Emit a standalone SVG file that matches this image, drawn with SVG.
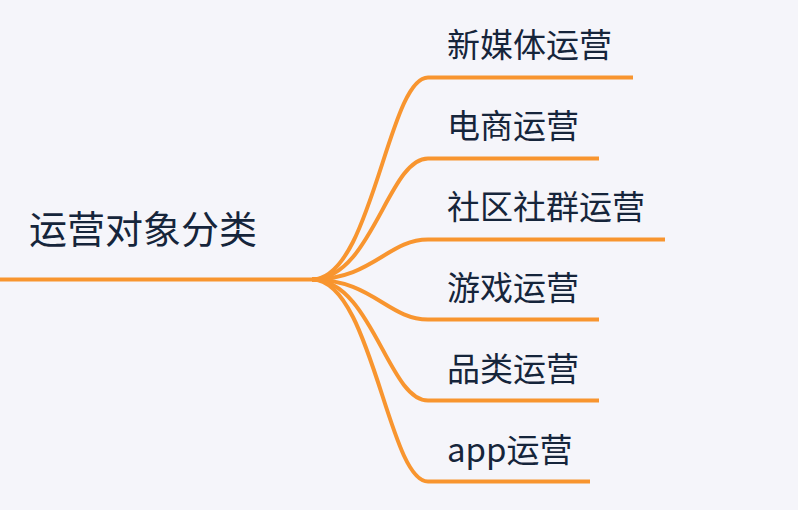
<svg xmlns="http://www.w3.org/2000/svg" width="798" height="510" viewBox="0 0 798 510">
<style>
.bg{fill:#f5f5fa}
.ln{fill:none;stroke:#f8952f;stroke-width:4;stroke-linecap:butt}
.t{font-family:"Noto Sans CJK SC","Noto Sans",sans-serif;fill:#16253b}
.sub{font-size:33px}
.root{font-size:38px}
</style>
<rect class="bg" x="0" y="0" width="798" height="510"/>
<g id="connectors">
<path class="ln" d="M0 279.5 H318"/>
<path class="ln" d="M312 279.5 C372 279.5 388 77.5 428 77.5 H633"/>
<path class="ln" d="M312 279.5 C372 279.5 388 158.5 428 158.5 H599"/>
<path class="ln" d="M312 279.5 C372 279.5 388 239.5 428 239.5 H665"/>
<path class="ln" d="M312 279.5 C372 279.5 388 319.5 428 319.5 H599"/>
<path class="ln" d="M312 279.5 C372 279.5 388 400.5 428 400.5 H599"/>
<path class="ln" d="M312 279.5 C372 279.5 388 481.5 428 481.5 H590"/>
</g>
<g id="root"><text class="t root" x="29" y="243">运营对象分类</text></g>
<g id="n1"><text class="t sub" x="447" y="57">新媒体运营</text></g>
<g id="n2"><text class="t sub" x="447" y="138">电商运营</text></g>
<g id="n3"><text class="t sub" x="447" y="219">社区社群运营</text></g>
<g id="n4"><text class="t sub" x="447" y="300">游戏运营</text></g>
<g id="n5"><text class="t sub" x="447" y="381">品类运营</text></g>
<g id="n6"><text class="t sub" x="447" y="462">app运营</text></g>
</svg>
